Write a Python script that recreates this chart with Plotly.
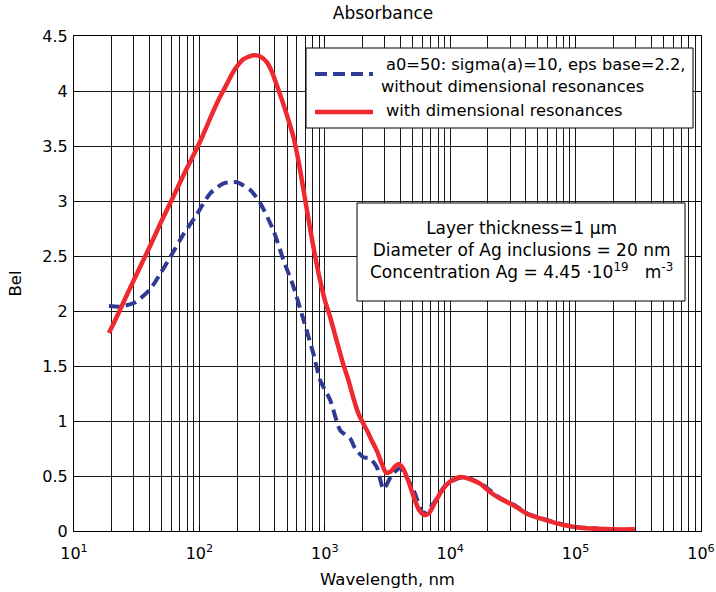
import plotly.graph_objects as go

# Absorbance spectra (wavelength in nm, absorbance in Bel)
wl_with = [19, 22, 27, 33, 40, 50, 62, 75, 90, 105, 125, 145, 165, 190, 225, 270,
           310, 346, 380, 415, 455, 499, 563, 620, 700, 800, 900, 1000, 1100, 1250,
           1400, 1545, 1700, 1850, 1980, 2165, 2350, 2600, 2850, 3080, 3350, 3650,
           3870, 4200, 4650, 5150, 5650, 6200, 6750, 7500, 8500, 10000, 12000, 14500,
           17300, 21000, 25000, 31900, 42000, 58900, 80000, 108000, 150000, 200000, 297000]
bel_with = [1.80, 1.95, 2.17, 2.38, 2.58, 2.82, 3.04, 3.24, 3.42, 3.58, 3.78, 3.94,
            4.06, 4.19, 4.29, 4.325, 4.31, 4.26, 4.17, 4.05, 3.92, 3.78, 3.58, 3.35,
            3.00, 2.62, 2.32, 2.10, 1.95, 1.72, 1.52, 1.37, 1.20, 1.07, 1.00, 0.915,
            0.83, 0.73, 0.61, 0.53, 0.54, 0.59, 0.61, 0.57, 0.45, 0.30, 0.19, 0.145,
            0.16, 0.25, 0.36, 0.45, 0.49, 0.47, 0.43, 0.35, 0.295, 0.234, 0.15, 0.097,
            0.055, 0.03, 0.02, 0.015, 0.015]

wl_without = [19, 23.4, 30.9, 40.6, 48.8, 58.6, 74.8, 92.7, 122, 156, 199, 255, 306,
              390, 469, 563, 676, 812, 918, 1104, 1327, 1594, 1747, 2034, 2300, 2600,
              2940, 3425, 3990, 5100, 6120, 7350, 9400, 12700, 17300, 25000, 31900,
              42000, 58900, 80000, 108000, 150000]
bel_without = [2.045, 2.04, 2.08, 2.20, 2.34, 2.49, 2.70, 2.855, 3.07, 3.16, 3.17,
               3.10, 2.98, 2.73, 2.46, 2.22, 1.92, 1.61, 1.37, 1.19, 0.915, 0.84,
               0.75, 0.67, 0.66, 0.58, 0.38, 0.51, 0.57, 0.37, 0.16, 0.25, 0.43,
               0.49, 0.435, 0.30, 0.24, 0.155, 0.10, 0.058, 0.033, 0.022]

x_tickvals = [1e1, 1e2, 1e3, 1e4, 1e5, 1e6]
x_ticktext = ["10<sup>1</sup>", "10<sup>2</sup>", "10<sup>3</sup>",
              "10<sup>4</sup>", "10<sup>5</sup>", "10<sup>6</sup>"]
y_tickvals = [0, 0.5, 1, 1.5, 2, 2.5, 3, 3.5, 4, 4.5]
y_ticktext = ["0", "0.5", "1", "1.5", "2", "2.5", "3", "3.5", "4", "4.5"]

legend_lines = ["a0=50: sigma(a)=10, eps base=2.2,",
                "without dimensional resonances",
                "with dimensional resonances"]
info_text = ("Layer thickness=1 \u03bcm<br>"
             "Diameter of Ag inclusions = 20 nm<br>"
             "Concentration Ag = 4.45 \u00b710<sup>19</sup>\u00a0\u00a0 m<sup>-3</sup>")

BLUE = "#2f3a94"
RED = "#ee2a30"
FONT = "DejaVu Sans"

W, H = 716, 592
L, R, T, B = 74, 15, 36, 61
PW, PH = W - L - R, H - T - B


def px(xpix):
    return (xpix - L) / PW


def py(ypix):
    return (H - B - ypix) / PH


minor_vals = [k * 10 ** n for n in range(1, 6) for k in range(2, 10)]

fig = go.Figure()
fig.add_trace(go.Scatter(x=wl_without, y=bel_without, mode="lines",
                         line=dict(color=BLUE, width=4, dash="11px,6px",
                                   shape="spline", smoothing=0.6),
                         showlegend=False))
fig.add_trace(go.Scatter(x=wl_with, y=bel_with, mode="lines",
                         line=dict(color=RED, width=4.5, shape="spline", smoothing=0.6),
                         showlegend=False))

grid = "rgba(0,0,0,0.9)"
fig.update_xaxes(type="log", range=[1, 6], tickmode="array", tickvals=x_tickvals,
                 ticktext=x_ticktext, showgrid=True, gridcolor=grid, gridwidth=1,
                 ticks="inside", ticklen=5, tickcolor="black",
                 minor=dict(tickmode="array", tickvals=minor_vals, showgrid=True,
                            gridcolor=grid, gridwidth=1, ticks="inside", ticklen=3),
                 showline=True, linecolor="black", linewidth=1, mirror="allticks",
                 zeroline=False, ticklabelstandoff=8, automargin=False,
                 title=dict(text="Wavelength, nm", standoff=11,
                            font=dict(family=FONT, size=16.5, color="black")),
                 tickfont=dict(family=FONT, size=16, color="black"))
fig.update_yaxes(range=[0, 4.5], tickmode="array", tickvals=y_tickvals,
                 ticktext=y_ticktext, showgrid=True, gridcolor=grid, gridwidth=1,
                 ticks="inside", ticklen=5, tickcolor="black",
                 showline=True, linecolor="black", linewidth=1, mirror="allticks",
                 zeroline=False, ticklabelstandoff=2, automargin=False,
                 title=dict(text="Bel", standoff=16,
                            font=dict(family=FONT, size=16.5, color="black")),
                 tickfont=dict(family=FONT, size=16, color="black"))

shapes = [
    # legend frame
    dict(type="rect", xref="paper", yref="paper", x0=px(306), x1=px(693),
         y0=py(128), y1=py(48), fillcolor="white", line=dict(color="black", width=1),
         layer="above"),
    dict(type="line", xref="paper", yref="paper", x0=px(315), x1=px(373),
         y0=py(74), y1=py(74), line=dict(color=BLUE, width=4, dash="12px,6px"),
         layer="above"),
    dict(type="line", xref="paper", yref="paper", x0=px(315), x1=px(373),
         y0=py(112), y1=py(112), line=dict(color=RED, width=4.5), layer="above"),
    # parameter box
    dict(type="rect", xref="paper", yref="paper", x0=px(357), x1=px(685),
         y0=py(301), y1=py(203), fillcolor="white", line=dict(color="black", width=1),
         layer="above"),
]

text_font = dict(family=FONT, size=16.3, color="black")
annotations = [
    dict(text=legend_lines[0], xref="paper", yref="paper", x=px(384), y=py(64),
         xanchor="left", yanchor="middle", showarrow=False, font=text_font),
    dict(text=legend_lines[1], xref="paper", yref="paper", x=px(379), y=py(86),
         xanchor="left", yanchor="middle", showarrow=False, font=text_font),
    dict(text=legend_lines[2], xref="paper", yref="paper", x=px(384), y=py(111),
         xanchor="left", yanchor="middle", showarrow=False, font=text_font),
    dict(text=info_text, xref="paper", yref="paper", x=px(521), y=py(250),
         xanchor="center", yanchor="middle", align="center", showarrow=False,
         font=dict(family=FONT, size=17, color="black")),
]

fig.update_layout(
    width=W, height=H,
    margin=dict(l=L, r=R, t=T, b=B, pad=0, autoexpand=False),
    paper_bgcolor="white", plot_bgcolor="white",
    title=dict(text="Absorbance", x=px(383), xref="paper", xanchor="center",
               y=1 - 13 / H, yref="container", yanchor="middle",
               font=dict(family=FONT, size=17, color="black")),
    shapes=shapes, annotations=annotations,
    showlegend=False,
)

fig.write_html("out.html")
